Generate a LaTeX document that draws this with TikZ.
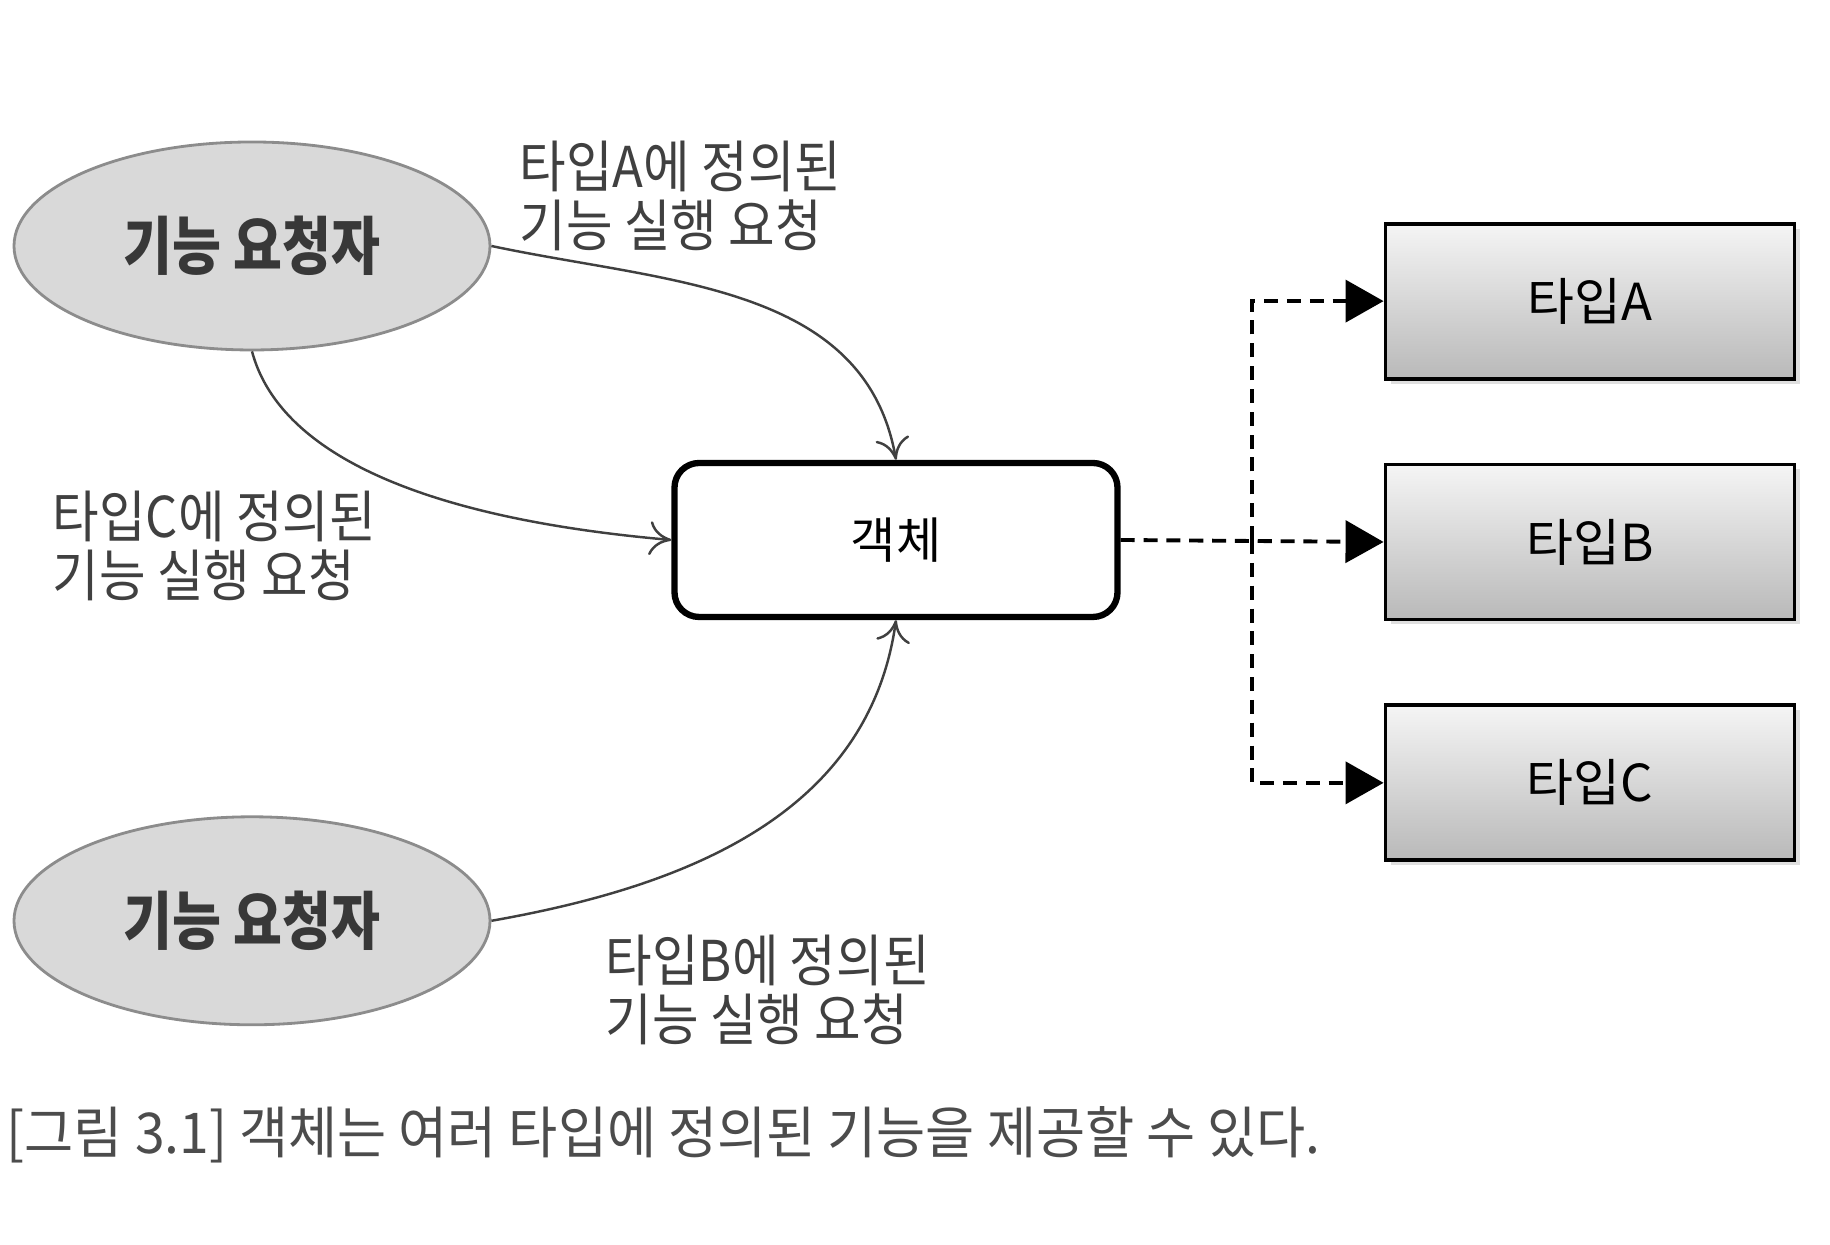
\documentclass[tikz,border=0pt]{standalone}
\usepackage{fontspec}
\setmainfont{Noto Sans CJK KR}
\newfontfamily\narrowfont[FakeStretch=0.84]{Noto Sans CJK KR}
\newfontfamily\labelfont[FakeStretch=0.9]{Noto Sans CJK KR}
\newfontfamily\captionfont[FakeStretch=0.95]{Noto Sans CJK KR}
\usetikzlibrary{shapes.geometric, arrows.meta, positioning, shadows}

\begin{document}
\begin{tikzpicture}[
  node distance=0.82cm,
  font=\labelfont\fontsize{16}{17}\selectfont,
  % requester = gray ellipse
  requester/.style={ellipse, draw=black!45, line width=0.8pt, fill=gray!30, minimum width=4.76cm, minimum height=2.08cm, font=\narrowfont\fontsize{18}{20}\selectfont\bfseries, text=black!78},
  % object = white rounded box, thick border
  object/.style={rectangle, draw=black, line width=1.8pt, rounded corners=7pt, fill=white, minimum width=4.43cm, minimum height=1.54cm, font=\fontsize{14}{16}\selectfont},
  % type = shaded box with shadow
  typebox/.style={rectangle, draw=black, line width=1.1pt, top color=gray!8, bottom color=gray!55, minimum width=4.09cm, minimum height=1.55cm, font=\fontsize{14.5}{16}\selectfont, drop shadow={shadow xshift=0.05cm, shadow yshift=-0.05cm, opacity=0.25}},
  reqtext/.style={align=left, anchor=north west, inner sep=0pt, text=black!75},
  arrow/.style={line width=0.7pt, draw=black!75, -{To[length=0.22cm, width=0.34cm]}},
  dasharrow/.style={line width=1.1pt, dash pattern=on 4pt off 2.5pt, -{Triangle[length=0.38cm, width=0.42cm]}}
]
\useasboundingbox (0,0) rectangle (18.3,12.45);

% ---- Requesters (left) ----
\node[requester] (req1) at (2.52,9.99) {기능 요청자};
\node[requester, below=4.64cm of req1] (req2) {기능 요청자};

% ---- Object (middle) ----
\node[object] (obj) at (8.96,7.05) {객체};

% ---- Types (right) ----
\node[typebox] (tb) at (15.90,7.03) {타입B};
\node[typebox, above=of tb] (ta) {타입A};
\node[typebox, below=of tb] (tc) {타입C};

% ---- Requests ----
\draw[arrow] (req1.east) to[out=-12, in=100] (obj.north);
\draw[arrow] (req1.south) to[out=-75, in=175, looseness=0.8] (obj.west);
\draw[arrow] (req2.east) to[out=10, in=-98] (obj.south);

\node[reqtext] (lba) at (5.19,11.05) {타입A에 정의된\\기능 실행 요청};
\node[reqtext] (lbc) at (0.52,7.55) {타입C에 정의된\\기능 실행 요청};
\node[reqtext] (lbb) at (6.05,3.11) {타입B에 정의된\\기능 실행 요청};

% ---- Provided types ----
\coordinate[right=1.31cm of obj.east] (split);
\draw[dasharrow] (obj.east) -- (tb.west);
\draw[dasharrow] (split) |- (ta.west);
\draw[dasharrow] (split) |- (tc.west);

% ---- Caption ----
\node[anchor=west, inner sep=0pt, text=black!70, font=\captionfont\fontsize{16}{18}\selectfont] (cap) at (0.06,1.10) {[그림 3.1] 객체는 여러 타입에 정의된 기능을 제공할 수 있다.};

\end{tikzpicture}
\end{document}
